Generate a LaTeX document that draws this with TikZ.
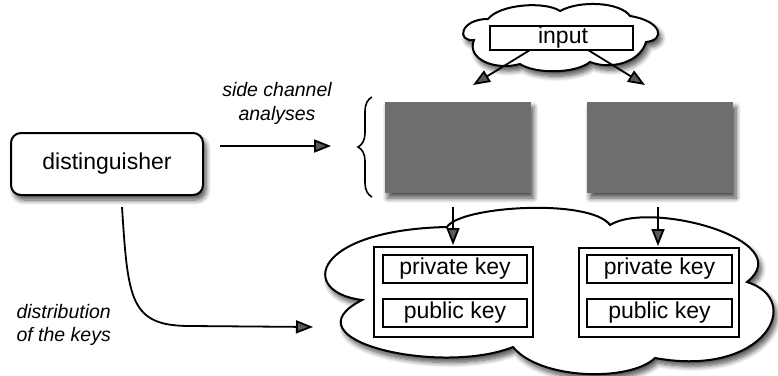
\documentclass[tikz,border=0pt]{standalone}
\usepackage{fontspec}
\setmainfont{Liberation Sans}
\usetikzlibrary{arrows.meta,shadows.blur,decorations.pathreplacing}
\begin{document}
\begin{tikzpicture}[x=1pt,y=-1pt,
  softshadow/.style={blur shadow={shadow xshift=3pt,shadow yshift=-5pt,
      shadow blur radius=5pt,shadow blur steps=8,shadow opacity=70}},
  mainfont/.style={font=\fontsize{23}{28}\selectfont},
  notefont/.style={font=\fontsize{19.5}{23.5}\selectfont\itshape},
  outline/.style={draw=black,line width=2pt,fill=white},
  keybox/.style={draw=black,line width=1.8pt,fill=white,inner sep=0pt,
      minimum width=144pt,minimum height=28pt,mainfont},
  holder/.style={draw=black,line width=1.8pt,fill=white,inner sep=0pt},
  device/.style={fill=black!57,inner sep=0pt,minimum width=146pt,
      minimum height=91pt,softshadow},
  arr/.style={line width=1.8pt,-{Triangle[length=17pt,width=13pt]}}]
\useasboundingbox (0,0) rectangle (778,375);

% cloud holding the input
\draw[outline,softshadow] (474,40)
  .. controls (456,42) and (460,19) .. (488,19)
  .. controls (500,4) and (545,1) .. (560,11)
  .. controls (580,0) and (620,2) .. (630,16)
  .. controls (662,21) and (666,40) .. (646,42)
  .. controls (640,63) and (610,70) .. (590,62)
  .. controls (575,74) and (535,74) .. (520,64)
  .. controls (495,71) and (466,59) .. cycle;
\node[holder,minimum width=143pt,minimum height=24pt] (input) at (561.5,38) {};
\node[mainfont,inner sep=0pt] (inputtext) at (563,38) {input};

% the two devices under analysis
\node[device] (devA) at (457.5,147.5) {};
\node[device] (devB) at (660,147.5) {};

% brace grouping the analysed devices
\draw[line width=1.6pt,decorate,decoration={brace,amplitude=14pt}]
  (372,197) -- (372,97);

% cloud holding the key pairs
\draw[outline,softshadow] (362,300)
  .. controls (298,292) and (312,230) .. (447,227)
  .. controls (460,206) and (590,198) .. (610,225)
  .. controls (650,200) and (800,240) .. (747,282)
  .. controls (805,300) and (765,378) .. (655,358)
  .. controls (630,382) and (540,380) .. (513,347)
  .. controls (440,376) and (284,340) .. cycle;

% key pairs
\node[holder,minimum width=159pt,minimum height=90pt] (pairA) at (453.5,292) {};
\node[keybox] (privA) at (455,269) {private key};
\node[keybox] (pubA) at (455,313) {public key};
\node[holder,minimum width=160pt,minimum height=89pt] (pairB) at (659,292.5) {};
\node[keybox,minimum width=145pt] (privB) at (659.5,269) {private key};
\node[keybox,minimum width=145pt] (pubB) at (659.5,313) {public key};

% attacker
\node[outline,rounded corners=10pt,inner sep=0pt,minimum width=192pt,
      minimum height=62pt,mainfont,softshadow] (dist) at (107,164) {distinguisher};

% labels
\node[notefont,align=center] (sca) at (277,103.5) {side channel\\analyses};
\node[notefont,align=left,anchor=west] (distrib) at (13,325) {distribution\\of the keys};

% connector end points
\coordinate (inL) at (530,50);
\coordinate (inR) at (588,50);
\coordinate (inLend) at (473,85);
\coordinate (inRend) at (645,85);
\coordinate (scaStart) at (220,146);
\coordinate (scaEnd) at (331,146);
\coordinate (devAout) at (453,207);
\coordinate (devBout) at (658,207);
\coordinate (keyAin) at (453,245);
\coordinate (keyBin) at (658,246);
\coordinate (distOut) at (122,207);
\coordinate (cloudIn) at (313,327);

% connectors
\draw[arr] (inL) -- (inLend);
\draw[arr] (inR) -- (inRend);
\draw[arr] (scaStart) -- (scaEnd);
\draw[arr] (devAout) -- (keyAin);
\draw[arr] (devBout) -- (keyBin);
\draw[arr] (distOut) .. controls (128,300) and (130,326) .. (190,326) -- (cloudIn);
\end{tikzpicture}
\end{document}
